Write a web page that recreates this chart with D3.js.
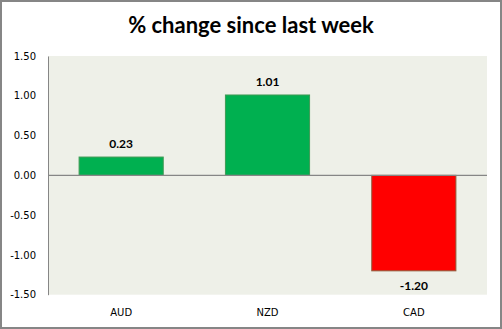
<!DOCTYPE html>
<html><head><meta charset="utf-8">
<script src="https://cdn.jsdelivr.net/npm/d3@7"></script>
<style>body{margin:0;background:#fff}svg{display:block}</style>
</head><body>
<script>
const categories = ["AUD", "NZD", "CAD"];
const values = [0.23, 1.01, -1.20];
const yTicks = [1.5, 1.0, 0.5, 0, -0.5, -1.0, -1.5];
const title = "% change since last week";

const W = 502, H = 329;
const m = {left: 48, right: 15, top: 56, bottom: 34};
const svg = d3.select("body").append("svg").attr("width", W).attr("height", H);

svg.append("rect").attr("x", 1).attr("y", 1).attr("width", W - 2).attr("height", H - 2)
  .attr("fill", "#fff").attr("stroke", "#868686").attr("stroke-width", 2);

const x = d3.scaleBand().domain(categories).range([m.left, W - m.right]).paddingInner(0.425).paddingOuter(0.2125);
const y = d3.scaleLinear().domain([-1.5, 1.5]).range([H - m.bottom - 0.3, m.top]);

svg.append("rect").attr("x", m.left).attr("y", m.top)
  .attr("width", W - m.right - m.left).attr("height", y(-1.5) - m.top)
  .attr("fill", "#EEF0E8");

svg.append("text").attr("x", 251).attr("y", 33).attr("text-anchor", "middle")
  .attr("font-family", "Lato, 'Open Sans', sans-serif").attr("font-weight", "bold")
  .attr("font-size", 22).attr("fill", "#000").text(title);

// y axis
const fmt = d3.format(".2f");
const yAxis = d3.axisLeft(y).tickValues(yTicks).tickFormat(d => fmt(d).replace("\u2212", "-")).tickSize(0).tickPadding(12);
const gy = svg.append("g").attr("transform", `translate(${m.left},0)`).call(yAxis);
gy.select(".domain").attr("stroke", "#868686");
gy.selectAll("text").attr("font-family", "'DejaVu Sans', Verdana, sans-serif").attr("font-size", 10).attr("fill", "#000");

// bars
svg.selectAll(".bar").data(values).enter().append("rect")
  .attr("x", (d, i) => x(categories[i]))
  .attr("width", x.bandwidth())
  .attr("y", d => y(Math.max(0, d)))
  .attr("height", d => Math.abs(y(d) - y(0)))
  .attr("fill", d => d >= 0 ? "#00B050" : "#FF0000")
  .attr("stroke", d => d >= 0 ? "#3E9A55" : "#8E5A3A")
  .attr("stroke-width", 1);

// zero line
svg.append("line").attr("x1", m.left).attr("x2", W - m.right)
  .attr("y1", y(0)).attr("y2", y(0)).attr("stroke", "#868686").attr("stroke-width", 1.2);

// data labels
svg.selectAll(".lbl").data(values).enter().append("text")
  .attr("x", (d, i) => x(categories[i]) + x.bandwidth() / 2)
  .attr("y", d => d >= 0 ? y(d) - 9 : y(d) + 19)
  .attr("text-anchor", "middle")
  .attr("font-family", "Lato, 'Open Sans', sans-serif").attr("font-weight", "bold")
  .attr("font-size", 12).attr("fill", "#000")
  .text(d => d.toFixed(2));

// x labels
const xAxis = d3.axisBottom(x).tickSize(0).tickPadding(0);
const gx = svg.append("g").attr("transform", `translate(0,${y(-1.5)})`).call(xAxis);
gx.select(".domain").remove();
gx.selectAll("text").attr("font-family", "'DejaVu Sans', Verdana, sans-serif").attr("font-size", 10)
  .attr("fill", "#000").attr("dy", null).attr("y", 21);
</script>
</body></html>
